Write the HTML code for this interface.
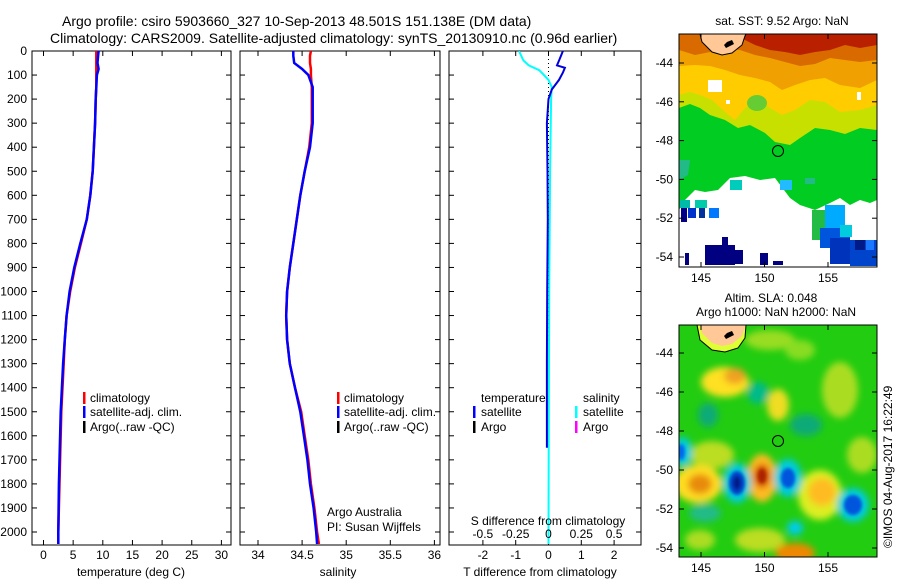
<!DOCTYPE html>
<html><head><meta charset="utf-8"><style>
html,body{margin:0;padding:0;background:#fff;}
svg{display:block;font-family:"Liberation Sans",sans-serif;}
</style></head><body>
<svg id="s" width="900" height="580" viewBox="0 0 900 580" xmlns="http://www.w3.org/2000/svg">
<defs>
<clipPath id="c1"><rect x="32" y="51" width="199" height="494"/></clipPath>
<clipPath id="c2"><rect x="240" y="51" width="200" height="494"/></clipPath>
<clipPath id="c3"><rect x="449" y="51" width="192" height="494"/></clipPath>
<clipPath id="cm1"><rect x="679" y="34" width="198" height="233"/></clipPath>
<clipPath id="cm2"><rect x="679" y="325" width="198" height="232"/></clipPath>
<filter id="bl" x="-50%" y="-50%" width="200%" height="200%"><feGaussianBlur stdDeviation="3.5"/></filter>
<filter id="bl2" x="-50%" y="-50%" width="200%" height="200%"><feGaussianBlur stdDeviation="1.5"/></filter>
</defs>
<text x="62" y="26" font-size="14">Argo profile: csiro 5903660_327 10-Sep-2013 48.501S 151.138E (DM data)</text>
<text x="50" y="43" font-size="14">Climatology: CARS2009. Satellite-adjusted climatology: synTS_20130910.nc (0.96d earlier)</text>

<!-- SST map -->
<g clip-path="url(#cm1)">
<rect x="679" y="34" width="198" height="233" fill="#fff"/>
<path d="M679,34 H877 V200 L870,203 L860,200 L850,205 L840,198 L830,203 L815,210 L800,205 L790,198 L775,178 L760,180 L745,176 L730,178 L718,190 L705,192 L695,190 L685,200 L679,210 Z" fill="#00cc22"/>
<path d="M679,34 H877 V130 L860,128 L845,134 L830,130 L815,128 L800,138 L790,145 L775,142 L765,133 L750,125 L738,128 L725,120 L710,115 L700,108 L690,104 L679,108 Z" fill="#c8e000"/>
<path d="M679,34 H877 V105 L860,110 L840,112 L825,102 L810,100 L795,110 L782,115 L770,108 L760,100 L745,108 L735,120 L725,112 L712,100 L700,95 L690,92 L679,95 Z" fill="#ffcc00"/>
<path d="M679,34 H877 V80 L860,88 L840,85 L825,78 L810,80 L795,85 L782,90 L770,82 L755,78 L740,75 L725,70 L710,66 L695,65 L679,66 Z" fill="#f0a000"/>
<path d="M679,34 H877 V60 L860,62 L845,60 L830,58 L815,64 L800,66 L785,62 L770,58 L755,55 L740,50 L725,48 L710,52 L695,55 L679,50 Z" fill="#d86a00"/>
<path d="M740,34 H877 V45 L860,48 L845,45 L830,50 L815,52 L800,55 L785,52 L770,50 L755,45 L745,40 Z" fill="#b82000"/>
<ellipse cx="757" cy="103" rx="10" ry="8" fill="#66cc33"/>
<rect x="708" y="80" width="14" height="12" fill="#fff"/><rect x="726" y="100" width="4" height="4" fill="#fff"/><rect x="857" y="92" width="4" height="8" fill="#fff"/>
<path d="M679,160 L690,160 L688,175 L679,180 Z" fill="#22bb88"/>
<rect x="730" y="180" width="12" height="10" fill="#00ccbb"/>
<rect x="780" y="180" width="12" height="10" fill="#22bbff"/>
<rect x="805" y="178" width="10" height="6" fill="#22bb88"/>
<rect x="680" y="200" width="10" height="8" fill="#00bbaa"/>
<rect x="695" y="200" width="12" height="8" fill="#00ccaa"/>
<rect x="681" y="208" width="6" height="14" fill="#000088"/><rect x="688" y="208" width="8" height="10" fill="#0033cc"/><rect x="699" y="208" width="6" height="10" fill="#003399"/><rect x="709" y="208" width="10" height="10" fill="#0077ff"/>
<rect x="812" y="210" width="14" height="30" fill="#22bb44"/>
<rect x="825" y="205" width="20" height="25" fill="#00aaff"/>
<rect x="820" y="228" width="30" height="20" fill="#0055dd"/>
<rect x="840" y="225" width="12" height="12" fill="#00ccdd"/>
<rect x="830" y="238" width="20" height="26" fill="#0033bb"/>
<rect x="850" y="240" width="27" height="26" fill="#0044cc"/>
<rect x="855" y="240" width="10" height="10" fill="#001a88"/>
<rect x="866" y="240" width="8" height="10" fill="#1a77ff"/>
<rect x="685" y="253" width="4" height="12" fill="#000080"/><rect x="705" y="245" width="30" height="20" fill="#000080"/><rect x="722" y="237" width="6" height="10" fill="#000080"/><rect x="735" y="250" width="8" height="14" fill="#000080"/><rect x="760" y="253" width="8" height="12" fill="#000080"/><rect x="773" y="261" width="10" height="4" fill="#000080"/>
<path d="M700,34 L702,42 L712,52 L722,55 L732,53 L742,45 L745,36 L746,34 Z" fill="#ffc896" stroke="#000" stroke-width="1"/>
<path d="M727,42 L732,40 L734,44 L730,46 L726,48 L724,45 Z" fill="#000"/>
<circle cx="778" cy="151" r="5.5" fill="none" stroke="#000" stroke-width="1"/>
</g>
<rect x="679" y="34" width="198" height="233" fill="none" stroke="#000" stroke-width="1"/>
<text x="782" y="25" font-size="12" text-anchor="middle">sat. SST: 9.52 Argo: NaN</text>

<!-- SLA map -->
<g clip-path="url(#cm2)">
<rect x="679" y="325" width="198" height="232" fill="#22cc11"/>
<g filter="url(#bl)">
<ellipse cx="770" cy="340" rx="25" ry="10" fill="#99dd22"/>
<ellipse cx="800" cy="350" rx="15" ry="10" fill="#88dd22"/>
<ellipse cx="840" cy="390" rx="18" ry="28" fill="#aadd22"/>
<ellipse cx="862" cy="455" rx="15" ry="18" fill="#aadd22"/>
<ellipse cx="712" cy="455" rx="22" ry="14" fill="#bbdd22"/>
<ellipse cx="760" cy="540" rx="25" ry="12" fill="#bbdd22"/>
<ellipse cx="820" cy="495" rx="22" ry="25" fill="#ddee22"/>
<ellipse cx="700" cy="540" rx="15" ry="10" fill="#aadd22"/>
<ellipse cx="725" cy="382" rx="24" ry="15" fill="#ffe022"/>
<ellipse cx="735" cy="376" rx="11" ry="8" fill="#f0a020"/>
<ellipse cx="778" cy="405" rx="11" ry="16" fill="#eedd22"/>
<ellipse cx="698" cy="484" rx="24" ry="19" fill="#ffdd22"/>
<ellipse cx="700" cy="484" rx="12" ry="10" fill="#e88a10"/>
<ellipse cx="762" cy="478" rx="15" ry="24" fill="#ffbb20"/>
<ellipse cx="762" cy="476" rx="8" ry="12" fill="#cc4400"/>
<ellipse cx="822" cy="492" rx="14" ry="14" fill="#ffbb22"/>
<ellipse cx="795" cy="553" rx="20" ry="10" fill="#ee8800"/>
<ellipse cx="758" cy="393" rx="11" ry="11" fill="#00bb88"/>
<ellipse cx="806" cy="425" rx="16" ry="11" fill="#11aa77"/>
<ellipse cx="708" cy="415" rx="10" ry="12" fill="#11aa77"/>
<ellipse cx="705" cy="513" rx="16" ry="9" fill="#22bb88"/>
<ellipse cx="737" cy="483" rx="14" ry="20" fill="#00ccdd"/>
<ellipse cx="788" cy="478" rx="14" ry="19" fill="#00ccdd"/>
<ellipse cx="853" cy="505" rx="16" ry="17" fill="#00ccdd"/>
<ellipse cx="683" cy="452" rx="9" ry="15" fill="#00ccdd"/>
<ellipse cx="795" cy="528" rx="8" ry="7" fill="#00ccee"/>
</g>
<g filter="url(#bl2)">
<ellipse cx="737" cy="483" rx="8" ry="12" fill="#0044cc"/>
<ellipse cx="737" cy="483" rx="4" ry="7" fill="#001a88"/>
<ellipse cx="788" cy="478" rx="7" ry="10" fill="#0055dd"/>
<ellipse cx="853" cy="505" rx="9" ry="10" fill="#0055dd"/>
<ellipse cx="681" cy="452" rx="4" ry="8" fill="#0066ee"/>
<ellipse cx="762" cy="476" rx="4" ry="7" fill="#aa2200"/>
</g>
<path d="M697,325 L700,340 L712,350 L725,352 L738,348 L745,338 L746,325 Z" fill="#ddff33" stroke="#000" stroke-width="1"/>
<path d="M700,325 L702,333 L712,343 L722,346 L732,344 L742,336 L745,327 L745,325 Z" fill="#ffc896"/>
<path d="M727,333 L732,331 L734,335 L730,337 L726,339 L724,336 Z" fill="#000"/>
<circle cx="778" cy="441" r="5.5" fill="none" stroke="#000" stroke-width="1"/>
</g>
<rect x="679" y="325" width="198" height="232" fill="none" stroke="#000" stroke-width="1"/>
<text x="771" y="302" font-size="12" text-anchor="middle">Altim. SLA: 0.048</text>
<text x="776" y="316" font-size="12" text-anchor="middle">Argo h1000: NaN h2000: NaN</text>
<text transform="translate(892,548) rotate(-90)" font-size="12">©IMOS 04-Aug-2017 16:22:49</text>
<g id="mapaxes"></g>
<g id="plots"></g>
</svg>
<script>
// ---- profile data ----
const depths = [0,20,50,75,100,150,200,300,400,500,600,700,800,900,1000,1100,1200,1300,1400,1500,1600,1700,1800,1900,2000,2050];
const tempClim = [8.9,8.9,8.9,8.9,8.9,8.9,8.8,8.7,8.5,8.3,7.9,7.3,6.3,5.3,4.5,3.9,3.6,3.4,3.2,3.0,2.9,2.8,2.7,2.6,2.5,2.5];
const tempSat = [9.3,9.2,9.1,9.3,9.0,8.9,8.8,8.7,8.5,8.3,7.9,7.3,6.2,5.2,4.4,3.9,3.6,3.3,3.1,2.9,2.8,2.7,2.6,2.55,2.5,2.5];
const salClim = [34.60,34.59,34.59,34.60,34.60,34.61,34.61,34.61,34.58,34.53,34.48,34.44,34.40,34.36,34.33,34.32,34.33,34.36,34.42,34.49,34.53,34.57,34.60,34.64,34.67,34.69];
const salSat = [34.40,34.40,34.41,34.50,34.57,34.62,34.62,34.62,34.59,34.53,34.48,34.44,34.40,34.36,34.33,34.32,34.33,34.36,34.42,34.48,34.52,34.56,34.59,34.63,34.66,34.67];
const tDiffDepths = [0,20,40,60,70,90,120,160,200,300,500,700,1000,1300,1650];
const tDiff = [0.44,0.38,0.32,0.26,0.5,0.44,0.32,0.1,0,-0.05,-0.03,-0.02,-0.04,-0.05,-0.05];
const sDiffDepths = [0,30,40,60,80,100,120,150,200,500,1000,1500,2050];
const sDiff = [-0.225,-0.2,-0.19,-0.15,-0.07,-0.035,0,0.025,0.02,0.012,0.005,0.002,0];
const depthTicks = [0,100,200,300,400,500,600,700,800,900,1000,1100,1200,1300,1400,1500,1600,1700,1800,1900,2000];
const tempTicks = [0,5,10,15,20,25,30];
const salTicks = [34,34.5,35,35.5,36];
const tDiffTicks = [-2,-1,0,1,2];
const sDiffTicks = [-0.5,-0.25,0,0.25,0.5];
const latTicks = [-44,-46,-48,-50,-52,-54];
const lonTicks = [145,150,155];

const NS='http://www.w3.org/2000/svg';
const P=document.getElementById('plots');
function mk(tag,attrs,parent){const e=document.createElementNS(NS,tag);for(const k in attrs)e.setAttribute(k,attrs[k]);(parent||P).appendChild(e);return e;}
const yD = d => 51 + d*0.2405;
const xT = t => 43.5 + t*5.93;
const xS = s => 258 + (s-34)*88.2;
const xTD = t => 548.5 + t*32.8;
const xSD = s => 548.5 + s*131.2;

function frame(x0,x1,name){
  const r=mk('rect',{x:x0,y:51,width:x1-x0,height:494,fill:'none',stroke:'#000','stroke-width':1});
  
  
  depthTicks.forEach(d=>{
    mk('line',{x1:x0,x2:x0+5,y1:yD(d),y2:yD(d),stroke:'#000'});
    mk('line',{x1:x1-5,x2:x1,y1:yD(d),y2:yD(d),stroke:'#000'});
  });
}
function xticks(vals,fx,labels,y){
  vals.forEach((v,i)=>{
    const x=fx(v);
    mk('line',{x1:x,x2:x,y1:51,y2:56,stroke:'#000'});
    mk('line',{x1:x,x2:x,y1:540,y2:545,stroke:'#000'});
    if(labels){const t=mk('text',{x:x,y:y,'font-size':12,'text-anchor':'middle'});t.textContent=labels[i];
      
      }
  });
}
function line(xs,ds,fx,color,clip,name,w){
  const pts=xs.map((v,i)=>fx(v).toFixed(1)+','+yD(ds[i]).toFixed(1)).join(' ');
  const l=mk('polyline',{points:pts,fill:'none',stroke:color,'stroke-width':w||2.5,'clip-path':'url(#'+clip+')'});
  
  
}
function txt(x,y,s,name,anchor,size){
  const t=mk('text',{x:x,y:y,'font-size':size||12,'text-anchor':anchor||'start'});t.textContent=s;
  
  
  return t;
}
function bar(x,y,c){const b=mk('rect',{x:x,y:y-10,width:2.5,height:12,fill:c});
  
  }

// Panel 1
frame(32,231,'temperature-panel');
depthTicks.forEach(d=>txt(27,yD(d)+4,String(d),'y-tick-label','end'));
xticks(tempTicks,xT,tempTicks.map(String),559);
line(tempClim,depths,xT,'#ff0000','c1','temp-climatology-line');
line(tempSat,depths,xT,'#0000ff','c1','temp-satellite-line');
txt(131,576,'temperature (deg C)','temperature-axis-title','middle');
bar(83,402,'#f00');txt(90,402,'climatology','legend-climatology');
bar(83,416,'#00f');txt(90,416,'satellite-adj. clim.','legend-satellite');
bar(83,431,'#000');txt(90,431,'Argo(..raw -QC)','legend-argo');

// Panel 2
frame(240,440,'salinity-panel');
xticks(salTicks,xS,salTicks.map(String),559);
line(salClim,depths,xS,'#ff0000','c2','sal-climatology-line');
line(salSat,depths,xS,'#0000ff','c2','sal-satellite-line');
txt(338,576,'salinity','salinity-axis-title','middle');
bar(337,402,'#f00');txt(344,402,'climatology','legend-climatology');
bar(337,416,'#00f');txt(344,416,'satellite-adj. clim.','legend-satellite');
bar(337,431,'#000');txt(344,431,'Argo(..raw -QC)','legend-argo');
txt(327,516,'Argo Australia','credit-argo-australia');
txt(327,531,'PI: Susan Wijffels','credit-pi');

// Panel 3
frame(449,641,'difference-panel');
xticks(tDiffTicks,xTD,tDiffTicks.map(String),559);
mk('line',{x1:xTD(0),x2:xTD(0),y1:51,y2:545,stroke:'#000','stroke-dasharray':'1,3'});
line(sDiff,sDiffDepths,xSD,'#00ffff','c3','s-diff-satellite-line',2);
line(tDiff,tDiffDepths,xTD,'#0000dd','c3','t-diff-satellite-line',2);
sDiffTicks.forEach(v=>txt(xSD(v),538,String(v),'s-diff-tick-label','middle'));
txt(548,525,'S difference from climatology','s-diff-axis-title','middle');
txt(540,576,'T difference from climatology','t-diff-axis-title','middle');
txt(481,402,'temperature','legend-temperature-header');
txt(583,402,'salinity','legend-salinity-header');
bar(473,416,'#00f');txt(481,416,'satellite','legend-t-satellite');
bar(473,431,'#000');txt(481,431,'Argo','legend-t-argo');
bar(575,416,'#0ff');txt(583,416,'satellite','legend-s-satellite');
bar(575,431,'#f0f');txt(583,431,'Argo','legend-s-argo');

// map axes
const MA=document.getElementById('mapaxes');
function mapAxes(top,bot,latY,name){
  latTicks.forEach(l=>{
    const y=latY(l);
    mk('line',{x1:679,x2:684,y1:y,y2:y,stroke:'#000'},MA);
    mk('line',{x1:872,x2:877,y1:y,y2:y,stroke:'#000'},MA);
    const t=mk('text',{x:673,y:y+4,'font-size':12,'text-anchor':'end'},MA);t.textContent=String(l);
    
    
  });
  lonTicks.forEach(l=>{
    const x=701+(l-145)*12.7;
    mk('line',{x1:x,x2:x,y1:top,y2:top+5,stroke:'#000'},MA);
    mk('line',{x1:x,x2:x,y1:bot-5,y2:bot,stroke:'#000'},MA);
    const t=mk('text',{x:x,y:bot+15,'font-size':12,'text-anchor':'middle'},MA);t.textContent=String(l);
    
    
  });
}
mapAxes(34,267,l=>63+(-44-l)*19.4,'sst-map');
mapAxes(325,557,l=>353+(-44-l)*19.5,'sla-map');
</script>
</body></html>
